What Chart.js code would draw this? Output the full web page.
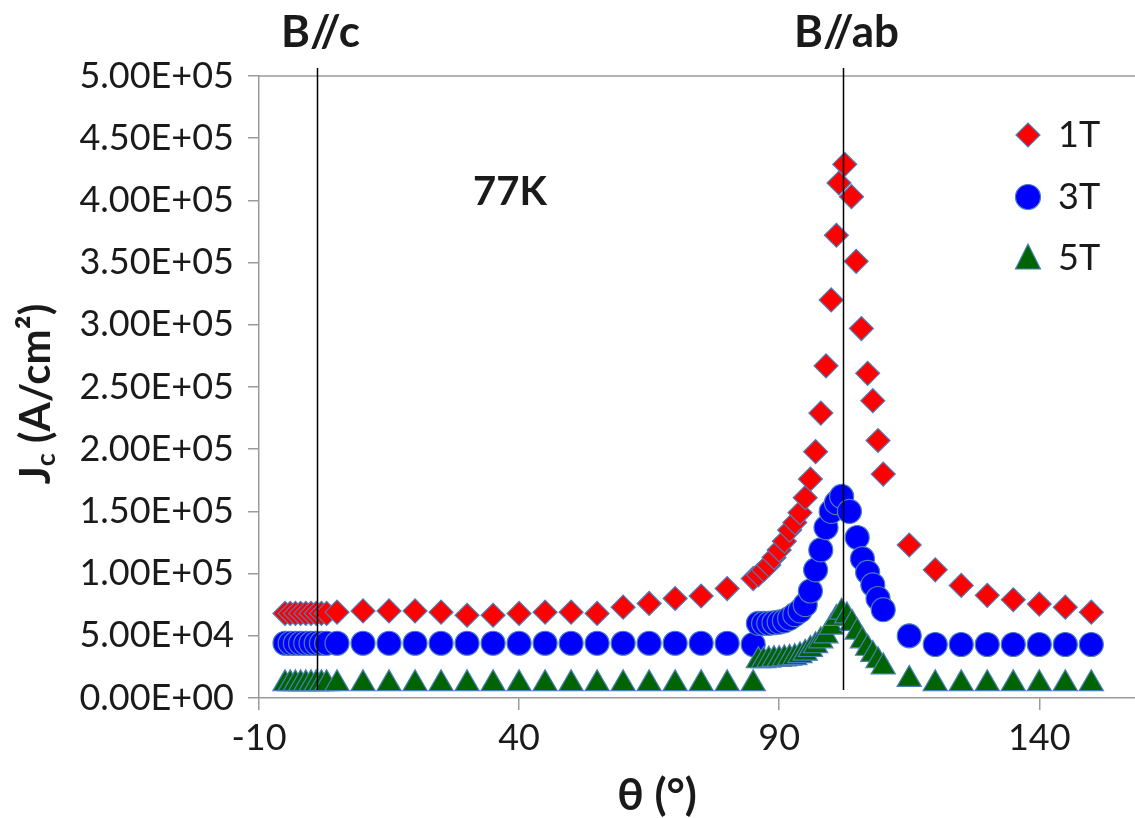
<!DOCTYPE html>
<html>
<head>
<meta charset="utf-8">
<script src="https://cdn.jsdelivr.net/npm/chart.js@4.4.1/dist/chart.umd.min.js"></script>
<style>
  html, body { margin: 0; padding: 0; background: #fff; }
  #jc-chart { display: block; }
</style>
</head>
<body>
<canvas id="jc-chart" width="1135" height="818"></canvas>
<script>
// angle (deg) and Jc (A/cm2)
var theta1T = [-5,-4,-3,-2,-1,0,1,2,3, 5,10,15,20,25,30,35,40,45,50,55,60,65,70,75,80,
               85,86,87,88,89,90,91,92,93,94,95,96,97,98,99,100,101,101.5,102.6,103.9,104.8,105.8,107,108,109,110,
               115,120,125,130,135,140,145,150];
var jc1T = [68000,68000,68000,68000,68000,68000,68000,68000,68000,
            69000,70000,70000,70000,69000,66500,66500,68000,69000,69000,68000,73000,76000,80000,82000,88000,
            96000,99000,103000,107000,113000,119000,126000,135000,141000,149000,161000,176000,198000,229000,267000,
            320000,372000,414000,429000,403000,351000,297000,261000,239000,207000,180000,
            123000,103000,90500,82500,79000,75500,73000,69000];

var theta3T = [-5,-4,-3,-2,-1,0,1,2,3, 5,10,15,20,25,30,35,40,45,50,55,60,65,70,75,80,
               85,86,87,88,89,90,91,92,93,94,95,96,97,98,99,100,101,102,103.5,105,106,107,108,109,110,
               115,120,125,130,135,140,145,150];
var jc3T = [44000,44000,44000,44000,44000,44000,44000,44000,44000,
            44000,44000,44000,44000,44000,44000,44000,44000,44000,44000,44000,44000,44000,44000,44000,44000,
            43000,60000,60000,60000,60500,61000,62000,64000,67000,70000,75000,86000,103000,119000,137000,
            150000,157000,162000,150000,129000,112000,101000,91000,80000,71000,
            50000,43000,43000,43000,43000,43000,43000,43000];

var theta5T = [-5,-4,-3,-2,-1,0,1,2,3, 5,10,15,20,25,30,35,40,45,50,55,60,65,70,75,80,
               85,86,87,88,89,90,91,92,93,94,95,96,97,98,99,100,101,102,103,104,105,106,107,108,109,110,
               115,120,125,130,135,140,145,150];
var jc5T = [11500,11500,11500,11500,11500,11500,11500,11500,11500,
            11500,11500,11500,11500,11500,11500,11500,11500,11500,11500,11500,11500,11500,11500,11500,11500,
            11500,30000,30000,30500,31000,31000,31500,32000,32500,34000,36000,39000,42000,46000,50000,
            57000,64000,69000,66000,60000,53000,46000,40000,35000,30000,25000,
            15000,11500,11500,11500,11500,11500,11500,11500];

var seriesNames = ['1T', '3T', '5T'];
var xTicks = [-10, 40, 90, 140];
var markerAngles = [1.2, 102.2];
var markerLabels = ['B//c', 'B//ab'];

function toPoints(xs, ys) {
    return xs.map(function (x, i) { return { x: x, y: ys[i] }; });
}

function sci(v) {
    if (v === 0) return '0.00E+00';
    var e = Math.floor(Math.log10(v) + 1e-9);
    var m = v / Math.pow(10, e);
    return m.toFixed(2) + 'E+' + (e < 10 ? '0' : '') + e;
}

var edge = '#4a7ebb';
var axisGrey = '#9a9a9a';
var textCol = '#1a1a1a';

var overlay = {
    id: 'overlay',
    afterDraw: function (chart) {
        var ctx = chart.ctx;
        var a = chart.chartArea;
        var xs = chart.scales.x;
        ctx.save();

        // top border of the plot
        ctx.strokeStyle = axisGrey;
        ctx.lineWidth = 1.5;
        ctx.beginPath();
        ctx.moveTo(a.left, a.top);
        ctx.lineTo(a.right, a.top);
        ctx.stroke();

        // B//c and B//ab lines
        ctx.strokeStyle = '#000';
        ctx.lineWidth = 1.5;
        ctx.fillStyle = textCol;
        ctx.font = 'bold 44px Lato';
        ctx.textAlign = 'center';
        ctx.textBaseline = 'middle';
        markerAngles.forEach(function (t, i) {
            var px = Math.round(xs.getPixelForValue(t)) + 0.5;
            ctx.beginPath();
            ctx.moveTo(px, a.top - 8);
            ctx.lineTo(px, a.bottom - 8);
            ctx.stroke();
            ctx.fillText(markerLabels[i], px + 3, 33);
        });

        ctx.font = 'bold 40px Lato';
        ctx.fillText('77K', 510, 192);

        // legend
        var ly = [135, 197, 258];
        chart.data.datasets.forEach(function (ds, i) {
            var cx = 1028, cy = ly[i];
            ctx.fillStyle = ds.backgroundColor;
            ctx.strokeStyle = edge;
            ctx.lineWidth = 1.2;
            ctx.beginPath();
            if (ds.pointStyle === 'rectRot') {
                ctx.moveTo(cx - 12, cy); ctx.lineTo(cx, cy - 12);
                ctx.lineTo(cx + 12, cy); ctx.lineTo(cx, cy + 12);
            } else if (ds.pointStyle === 'circle') {
                ctx.arc(cx, cy, 12.5, 0, Math.PI * 2);
            } else {
                ctx.moveTo(cx, cy - 14); ctx.lineTo(cx + 12.5, cy + 11);
                ctx.lineTo(cx - 12.5, cy + 11);
            }
            ctx.closePath();
            ctx.fill();
            ctx.stroke();
            ctx.fillStyle = textCol;
            ctx.font = '36px Lato';
            ctx.textAlign = 'left';
            ctx.fillText(ds.label, 1058, cy);
        });

        // axis titles
        ctx.textAlign = 'center';
        ctx.font = 'bold 44px Lato';
        ctx.fillText('\u03b8 (\u00b0)', 657, 796);

        ctx.translate(36, 394);
        ctx.rotate(-Math.PI / 2);
        ctx.textAlign = 'left';
        var big = 'bold 42px Lato', small = 'bold 27px Lato';
        ctx.font = big;
        var wJ = ctx.measureText('J').width;
        var wRest = ctx.measureText(' (A/cm\u00b2)').width;
        ctx.font = small;
        var wc = ctx.measureText('c').width;
        var x0 = -(wJ + wc + wRest) / 2;
        ctx.font = big;
        ctx.fillText('J', x0, 0);
        ctx.font = small;
        ctx.fillText('c', x0 + wJ, 10);
        ctx.font = big;
        ctx.fillText(' (A/cm\u00b2)', x0 + wJ + wc, 0);

        ctx.restore();
    }
};

var ctx = document.getElementById('jc-chart').getContext('2d');
new Chart(ctx, {
    type: 'scatter',
    data: {
        datasets: [
            { label: seriesNames[0], data: toPoints(theta1T, jc1T), pointStyle: 'rectRot', pointRadius: 12,
              backgroundColor: '#ff0000', borderColor: edge, borderWidth: 1.2, order: 3 },
            { label: seriesNames[1], data: toPoints(theta3T, jc3T), pointStyle: 'circle', pointRadius: 12,
              backgroundColor: '#0000ff', borderColor: edge, borderWidth: 1.2, order: 2 },
            { label: seriesNames[2], data: toPoints(theta5T, jc5T), pointStyle: 'triangle', pointRadius: 14,
              backgroundColor: '#006400', borderColor: edge, borderWidth: 1.2, order: 1 }
        ]
    },
    options: {
        responsive: false,
        animation: false,
        devicePixelRatio: 1,
        layout: { autoPadding: false, padding: { top: 76, right: 0, left: 0, bottom: 0 } },
        plugins: { legend: { display: false }, tooltip: { enabled: false } },
        scales: {
            x: {
                type: 'linear',
                min: -10,
                max: 158.4,
                afterBuildTicks: function (s) { s.ticks = xTicks.map(function (v) { return { value: v }; }); },
                afterFit: function (s) { s.height = 120; s.paddingLeft = 0; s.paddingRight = 0; },
                ticks: { font: { family: 'Lato', size: 36 }, color: textCol, padding: 7, maxRotation: 0 },
                grid: { drawOnChartArea: false, drawTicks: true, tickLength: 12, color: axisGrey, lineWidth: 1.5 },
                border: { color: axisGrey, width: 1.5 }
            },
            y: {
                min: 0,
                max: 500000,
                afterFit: function (s) { s.width = 259; },
                ticks: { stepSize: 50000, callback: function (v) { return sci(v); },
                         font: { family: 'Lato', size: 36 }, color: textCol, padding: 14 },
                grid: { drawOnChartArea: false, drawTicks: true, tickLength: 11, color: axisGrey, lineWidth: 1.5 },
                border: { color: axisGrey, width: 1.5 }
            }
        }
    },
    plugins: [overlay]
});
</script>
</body>
</html>
